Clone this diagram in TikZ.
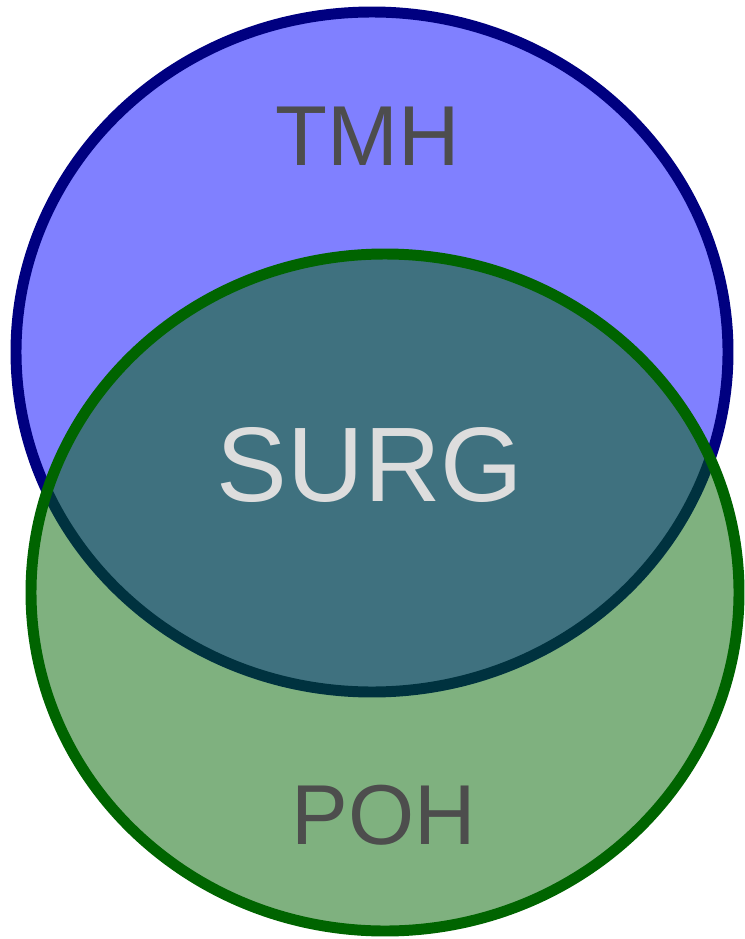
\documentclass[tikz,border=0pt]{standalone}
\usepackage{fontspec}
\setsansfont{Liberation Sans}
\usepackage{xcolor}
\definecolor{tmhline}{HTML}{000080}
\definecolor{tmhfill}{HTML}{8080FF}
\definecolor{pohline}{HTML}{006400}
\definecolor{lblgray}{HTML}{4D4D4D}
\definecolor{surggray}{HTML}{DDDDDD}

\begin{document}
\begin{tikzpicture}[x=0.025cm, y=-0.025cm, every node/.style={inner sep=0pt},
  setname/.style={font=\sffamily\fontsize{60.5pt}{72pt}\selectfont, text=lblgray},
  common/.style={font=\sffamily\fontsize{75.4pt}{90pt}\selectfont, text=surggray}]
  \useasboundingbox (0,0) rectangle (744,939);
  \draw[line width=7.8pt, draw=tmhline, fill=tmhfill] (372,352) ellipse [x radius=356, y radius=340];
  \draw[line width=7.8pt, draw=pohline, fill=pohline, fill opacity=0.5] (385,592.5) ellipse [x radius=354, y radius=338.5];
  \node[setname] (tmh) at (368,136.5) {TMH};
  \node[common] (surg) at (370,465) {SURG};
  \node[setname] (poh) at (384,815) {POH};
\end{tikzpicture}
\end{document}
